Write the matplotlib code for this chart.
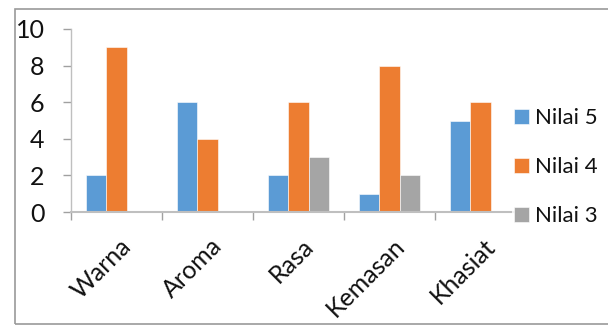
import matplotlib
matplotlib.use("Agg")
import matplotlib.pyplot as plt
import matplotlib.transforms as mtransforms
from matplotlib.patches import Rectangle
import numpy as np

plt.rcParams['font.family'] = ['Lato', 'DejaVu Sans']

# ---- data ----
categories = ["Warna", "Aroma", "Rasa", "Kemasan", "Khasiat"]
series_names = ["Nilai 5", "Nilai 4", "Nilai 3"]
nilai_5 = [2, 6, 2, 1, 5]
nilai_4 = [9, 4, 6, 8, 6]
nilai_3 = [0, 0, 3, 2, 0]
colors = ["#5B9BD5", "#ED7D31", "#A5A5A5"]

fig = plt.figure(figsize=(6.08, 3.25), dpi=100)
W, H = 608, 325
ax = fig.add_axes([71 / W, 1 - 212 / H, (526 - 71) / W, (212 - 29) / H])

# chart frame
fig.patches.append(Rectangle((15 / W, 1 / H), (620 - 15) / W, (316 - 1) / H,
                             transform=fig.transFigure, fill=False,
                             edgecolor="#9a9a9a", linewidth=1.2))

x = np.arange(len(categories))
bw = 0.225
for i, (vals, name) in enumerate(zip([nilai_5, nilai_4, nilai_3], series_names)):
    ax.bar(x + (i - 1) * bw, vals, width=bw, color=colors[i], label=name,
           edgecolor="white", linewidth=0.4, zorder=2)

ax.set_xlim(-0.5, len(categories) - 0.5)
ax.set_ylim(0, 10)
ax.set_yticks(range(0, 11, 2))

# tick marks between categories, labels at category centres
ax.set_xticks(np.arange(-0.5, len(categories), 1.0))
ax.set_xticklabels([])
ax.set_xticks(x, minor=True)
ax.set_xticklabels(categories, minor=True, rotation=45, ha="right",
                   rotation_mode="anchor", fontsize=18, color="#111111")
ax.tick_params(axis="x", which="minor", length=0, pad=16)
offset = mtransforms.ScaledTranslation(3 / 100, 0, fig.dpi_scale_trans)
for lbl in ax.get_xticklabels(minor=True):
    lbl.set_transform(lbl.get_transform() + offset)

ax.tick_params(axis="x", which="major", length=6, color="#a0a0a0", width=1)
ax.tick_params(axis="y", length=6, color="#a0a0a0", width=1, labelsize=18,
               pad=13, labelcolor="#111111")

for side in ["top", "right"]:
    ax.spines[side].set_visible(False)
ax.spines["left"].set_color("#bfbfbf")
ax.spines["bottom"].set_color("#bfbfbf")
ax.spines["left"].set_linewidth(1.0)
ax.spines["bottom"].set_linewidth(1.5)

leg = ax.legend(loc="center left", bbox_to_anchor=(512 / W, 1 - 167 / H),
                bbox_transform=fig.transFigure, frameon=True, fontsize=16,
                handlelength=0.65, handleheight=0.65, handletextpad=0.3,
                labelspacing=1.3, borderpad=0.1, borderaxespad=0,
                labelcolor="#111111")
leg.get_frame().set_facecolor("white")
leg.get_frame().set_edgecolor("none")
leg.get_frame().set_boxstyle("square", pad=0)

fig.savefig("out.png", dpi=100, facecolor="white")
